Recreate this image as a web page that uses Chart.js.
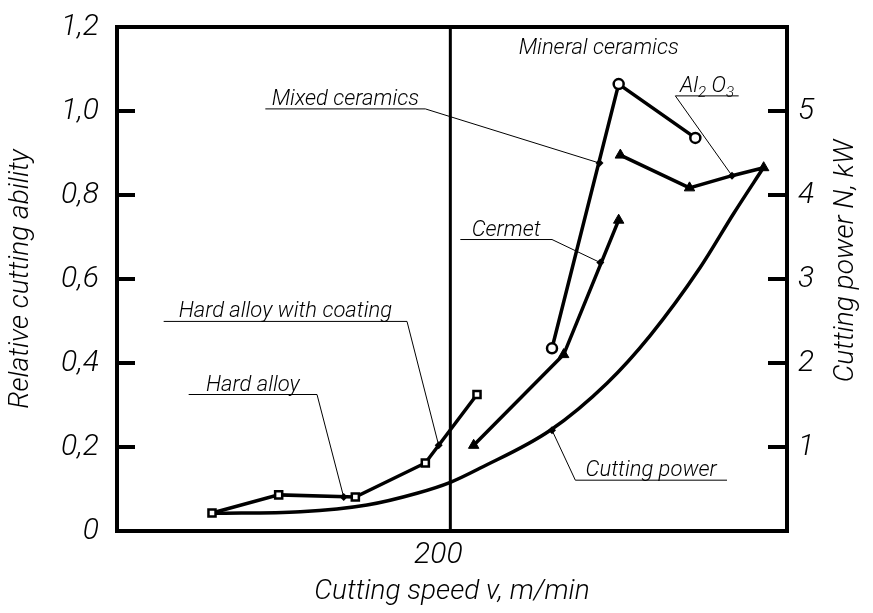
<!DOCTYPE html>
<html>
<head>
<meta charset="utf-8">
<script src="https://cdn.jsdelivr.net/npm/chart.js@4.4.1/dist/chart.umd.min.js"></script>
<style>
  html, body { margin: 0; padding: 0; background: #fff; }
  #wrap { width: 873px; height: 613px; }
</style>
</head>
<body>
<div id="wrap"><canvas id="speedChart"></canvas></div>
<script>
// cutting speed v (m/min) -> relative cutting ability
const hardAlloyV = [57, 97, 143, 185, 216];
const hardAlloyK = [0.043, 0.086, 0.081, 0.162, 0.325];
const cermetV = [214, 268, 301];
const cermetK = [0.204, 0.42, 0.74];
const mixedV = [261, 301, 347];
const mixedK = [0.435, 1.064, 0.936];
const al2o3V = [302, 343.5, 369, 388];
const al2o3K = [0.895, 0.817, 0.846, 0.865];
// cutting speed v (m/min) -> cutting power N (kW), right axis
const powerV = [58, 110, 150, 180, 200, 218, 260, 294, 320, 350, 370, 388];
const powerN = [0.21, 0.23, 0.31, 0.45, 0.58, 0.75, 1.2, 1.76, 2.33, 3.14, 3.78, 4.33];

const leftTicks = [0, 0.2, 0.4, 0.6, 0.8, 1.0, 1.2];
const rightTicks = [1, 2, 3, 4, 5];
const speedTicks = [200];

// callouts: underline from x1 to x2 at y, leader from one end to the marked point
const notes = [
  { text: 'Mixed ceramics', x1: 89, x2: 185, y: 1.005, from: 'x2', tx: 289.5, ty: 0.876 },
  { text: [['Al'], ['2', 1], [' O'], ['3', 1]], x1: 335, x2: 373, y: 1.036, from: 'x1', tx: 369, ty: 0.846 },
  { text: 'Cermet', x1: 206, x2: 261, y: 0.694, from: 'x2', tx: 290, ty: 0.639 },
  { text: 'Hard alloy with coating', x1: 28, x2: 174, y: 0.499, from: 'x2', tx: 193, ty: 0.204 },
  { text: 'Hard alloy', x1: 43, x2: 120, y: 0.325, from: 'x2', tx: 136, ty: 0.081 },
  { text: 'Cutting power', x1: 275, x2: 366, y: 0.121, from: 'x1', tx: 261, ty: 0.24 }
];

const FONT = "Roboto, 'DejaVu Sans Condensed', sans-serif";
const pts = (xs, ys) => xs.map((x, i) => ({ x, y: ys[i] }));
const tickFont = { family: FONT, size: 30, style: 'italic', weight: '300' };
const titleFont = { family: FONT, size: 28, style: 'italic', weight: '300' };

const sketch = {
  id: 'sketch',
  afterDatasetsDraw(chart) {
    const { ctx, chartArea: a, scales } = chart;
    const sx = scales.x, sy = scales.y, sy2 = scales.y2;
    ctx.save();
    ctx.strokeStyle = '#000';
    ctx.fillStyle = '#000';
    ctx.lineCap = 'butt';

    // frame
    ctx.lineWidth = 4;
    ctx.strokeRect(a.left, a.top, a.right - a.left, a.bottom - a.top);

    // v = 200 divider
    ctx.lineWidth = 3;
    ctx.beginPath();
    ctx.moveTo(sx.getPixelForValue(200), a.top);
    ctx.lineTo(sx.getPixelForValue(200), a.bottom);
    ctx.stroke();

    // inward tick marks
    ctx.lineWidth = 4;
    leftTicks.slice(1, -1).forEach(v => {
      const y = sy.getPixelForValue(v);
      ctx.beginPath(); ctx.moveTo(a.left, y); ctx.lineTo(a.left + 18, y); ctx.stroke();
    });
    rightTicks.forEach(v => {
      const y = sy2.getPixelForValue(v);
      ctx.beginPath(); ctx.moveTo(a.right - 19, y); ctx.lineTo(a.right, y); ctx.stroke();
    });

    // callouts
    ctx.textBaseline = 'alphabetic';
    notes.forEach(n => {
      const x1 = sx.getPixelForValue(n.x1), x2 = sx.getPixelForValue(n.x2);
      const y = sy.getPixelForValue(n.y);
      const tx = sx.getPixelForValue(n.tx), ty = sy.getPixelForValue(n.ty);
      ctx.lineWidth = 1;
      ctx.beginPath();
      ctx.moveTo(x1, y); ctx.lineTo(x2, y);
      ctx.moveTo(n.from === 'x1' ? x1 : x2, y); ctx.lineTo(tx, ty);
      ctx.stroke();
      // small diamond at the point
      ctx.beginPath();
      ctx.moveTo(tx, ty - 4); ctx.lineTo(tx + 4, ty); ctx.lineTo(tx, ty + 4); ctx.lineTo(tx - 4, ty);
      ctx.closePath(); ctx.fill();
      // text
      const parts = typeof n.text === 'string' ? [[n.text]] : n.text;
      const fontOf = p => 'italic 300 ' + (p[1] ? 15 : 22) + 'px ' + FONT;
      let w = 0;
      parts.forEach(p => { ctx.font = fontOf(p); w += ctx.measureText(p[0]).width; });
      let x = (x1 + x2) / 2 - w / 2;
      ctx.textAlign = 'left';
      parts.forEach(p => {
        ctx.font = fontOf(p);
        ctx.fillText(p[0], x, y - 4 + (p[1] ? 5 : 0));
        x += ctx.measureText(p[0]).width;
      });
    });

    ctx.font = 'italic 300 22px ' + FONT;
    ctx.textAlign = 'center';
    ctx.fillText('Mineral ceramics', sx.getPixelForValue(289), sy.getPixelForValue(1.154) + 8);

    // right axis title, reading bottom to top
    ctx.translate(846, (a.top + a.bottom) / 2 - 18);
    ctx.rotate(-Math.PI / 2);
    ctx.font = 'italic 300 28px ' + FONT;
    ctx.textBaseline = 'middle';
    ctx.fillText('Cutting power N, kW', 0, 0);
    ctx.restore();
  }
};

const ctx = document.getElementById('speedChart').getContext('2d');
new Chart(ctx, {
  type: 'line',
  data: {
    datasets: [
      {
        label: 'Hard alloy',
        data: pts(hardAlloyV, hardAlloyK),
        borderColor: '#000', borderWidth: 3.5,
        pointStyle: 'rect', pointRadius: 5, pointBorderWidth: 2.5,
        pointBackgroundColor: '#fff', pointBorderColor: '#000'
      },
      {
        label: 'Cermet',
        data: pts(cermetV, cermetK),
        borderColor: '#000', borderWidth: 3.5,
        pointStyle: 'triangle', pointRadius: 6, pointBorderWidth: 1,
        pointBackgroundColor: '#000', pointBorderColor: '#000'
      },
      {
        label: 'Mixed ceramics',
        data: pts(mixedV, mixedK),
        borderColor: '#000', borderWidth: 3.5,
        pointStyle: 'circle', pointRadius: 5, pointBorderWidth: 2.5,
        pointBackgroundColor: '#fff', pointBorderColor: '#000'
      },
      {
        label: 'Al2O3',
        data: pts(al2o3V, al2o3K),
        borderColor: '#000', borderWidth: 3.5,
        pointStyle: 'triangle', pointRadius: [6, 6, 0, 6], pointBorderWidth: 1,
        pointBackgroundColor: '#000', pointBorderColor: '#000'
      },
      {
        label: 'Cutting power',
        data: pts(powerV, powerN),
        yAxisID: 'y2',
        borderColor: '#000', borderWidth: 3.5,
        pointRadius: 0,
        cubicInterpolationMode: 'monotone'
      }
    ]
  },
  options: {
    responsive: true,
    maintainAspectRatio: false,
    animation: false,
    layout: { padding: { top: 27, bottom: 0, left: 0, right: 0 } },
    plugins: {
      legend: { display: false },
      tooltip: { enabled: false }
    },
    scales: {
      x: {
        type: 'linear', min: 0, max: 402,
        grid: { display: false, drawTicks: false },
        border: { display: false },
        afterBuildTicks: s => { s.ticks = speedTicks.map(value => ({ value })); },
        afterFit: s => { s.height = 82; s.paddingLeft = 0; s.paddingRight = 0; },
        ticks: { color: '#000', padding: 6, labelOffset: -12, font: tickFont },
        title: {
          display: true, text: 'Cutting speed v, m/min', color: '#000',
          font: titleFont, padding: { top: 0, bottom: 4 }
        }
      },
      y: {
        min: 0, max: 1.2,
        grid: { display: false, drawTicks: false },
        border: { display: false },
        afterBuildTicks: s => { s.ticks = leftTicks.map(value => ({ value })); },
        afterFit: s => { s.width = 117; s.paddingTop = 0; s.paddingBottom = 0; },
        ticks: {
          color: '#000', padding: 18, font: tickFont,
          callback: v => v === 0 ? '0' : v.toFixed(1).replace('.', ',')
        },
        title: {
          display: true, text: 'Relative cutting ability', color: '#000',
          font: titleFont, padding: { top: 4, bottom: 0 }
        }
      },
      y2: {
        position: 'right', min: 0, max: 6,
        grid: { display: false, drawTicks: false },
        border: { display: false },
        afterBuildTicks: s => { s.ticks = rightTicks.map(value => ({ value })); },
        afterFit: s => { s.width = 86; s.paddingTop = 0; s.paddingBottom = 0; },
        ticks: { color: '#000', padding: 11, font: tickFont }
      }
    }
  },
  plugins: [sketch]
});
</script>
</body>
</html>
